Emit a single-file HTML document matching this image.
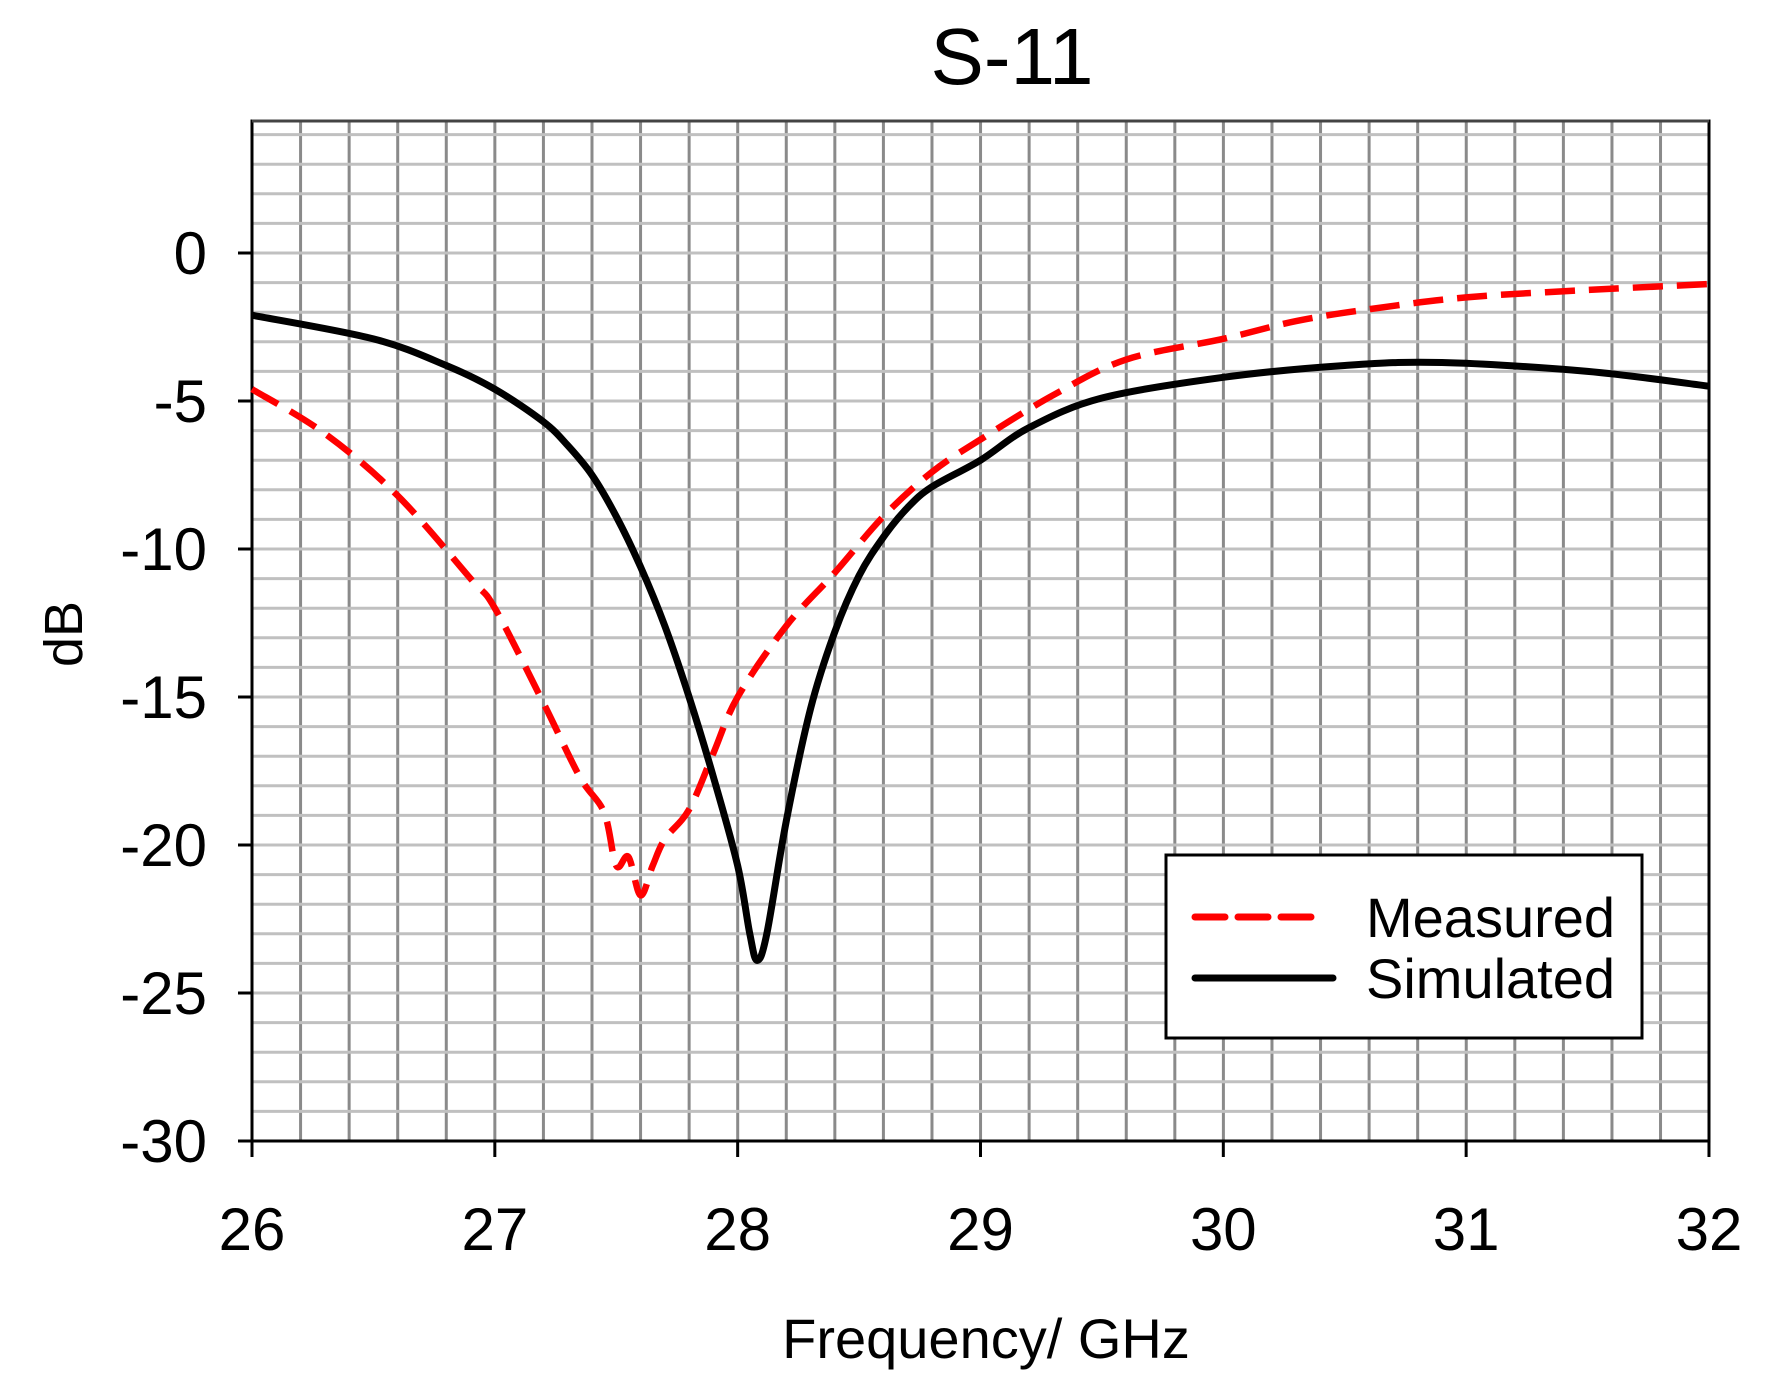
<!DOCTYPE html>
<html><head><meta charset="utf-8"><style>
html,body{margin:0;padding:0;background:#fff;}
svg{display:block;}
text{font-family:"Liberation Sans",Arial,sans-serif;fill:#000;}
</style></head><body>
<svg id="s" width="1767" height="1387" viewBox="0 0 1767 1387" xmlns="http://www.w3.org/2000/svg">
<rect width="1767" height="1387" fill="#fff"/>
<g id="grid"></g>
<g id="curves"></g>
<rect x="1166" y="855" width="476" height="183" fill="#fff" stroke="#000" stroke-width="3"/>
<line x1="1195" y1="917" x2="1316" y2="917" stroke="#f00" stroke-width="7" stroke-dasharray="30 13" stroke-linecap="round"/>
<line x1="1195" y1="978" x2="1333" y2="978" stroke="#000" stroke-width="7" stroke-linecap="round"/>
<text x="1366" y="937" font-size="56">Measured</text>
<text x="1366" y="998" font-size="56">Simulated</text>
<text x="1012" y="84" font-size="80" text-anchor="middle">S-11</text>
<text transform="translate(82,634) rotate(-90)" font-size="54" text-anchor="middle">dB</text>
<text x="986" y="1358" font-size="56" text-anchor="middle">Frequency/ GHz</text>
<g id="ticks"></g>
</svg>
<script>
var X=function(f){return 252+(f-26)*242.83;},Y=function(d){return 253-d*29.6;};
var g='';
for(var i=1;i<30;i++){var x=252+i*48.57;g+='<line x1="'+x+'" y1="121" x2="'+x+'" y2="1141" stroke="#8a8a8a" stroke-width="3"/>';}
for(var d=4;d>=-29;d--){var y=Y(d);g+='<line x1="252" y1="'+y+'" x2="1709" y2="'+y+'" stroke="#c0c0c0" stroke-width="3"/>';}
g+='<rect x="252" y="121" width="1457" height="1020" fill="none" stroke="#000" stroke-width="3"/>';
g+='<line x1="252" y1="121" x2="1709" y2="121" stroke="#444" stroke-width="3"/>';
document.getElementById('grid').innerHTML=g;
var t='';
for(var d=0;d>=-30;d-=5){var y=Y(d);t+='<line x1="238" y1="'+y+'" x2="252" y2="'+y+'" stroke="#000" stroke-width="3"/>';
t+='<text x="207" y="'+(y+21)+'" font-size="60" text-anchor="end">'+(d==0?'0':d)+'</text>';}
for(var f=26;f<=32;f++){var x=X(f);t+='<line x1="'+x+'" y1="1141" x2="'+x+'" y2="1157" stroke="#000" stroke-width="3"/>';
t+='<text x="'+x+'" y="1250" font-size="60" text-anchor="middle">'+f+'</text>';}
document.getElementById('ticks').innerHTML=t;
var sim=[[26,-2.1],[26.5,-2.9],[26.8,-3.8],[27,-4.6],[27.2,-5.7],[27.3,-6.5],[27.4,-7.5],[27.5,-8.9],[27.6,-10.6],[27.7,-12.6],[27.8,-15],[27.9,-17.7],[28.0,-20.7],[28.05,-23],[28.08,-23.9],[28.12,-23],[28.2,-19.2],[28.3,-15.4],[28.4,-12.8],[28.5,-10.9],[28.6,-9.6],[28.7,-8.6],[28.8,-7.9],[29,-7.0],[29.2,-5.9],[29.5,-4.9],[30,-4.2],[30.5,-3.8],[30.9,-3.7],[31.5,-4.0],[32,-4.5]];
var mea=[[26,-4.6],[26.3,-6.1],[26.6,-8.2],[26.9,-11],[27.0,-12],[27.2,-15.2],[27.35,-17.7],[27.45,-18.9],[27.5,-20.7],[27.55,-20.4],[27.6,-21.7],[27.65,-20.7],[27.7,-19.8],[27.8,-18.8],[27.9,-16.9],[28.0,-15],[28.2,-12.6],[28.4,-10.8],[28.6,-8.9],[28.8,-7.4],[29.0,-6.3],[29.3,-4.8],[29.6,-3.6],[30,-2.9],[30.3,-2.3],[30.6,-1.9],[31,-1.5],[31.5,-1.25],[32,-1.05]];
function path(a){var p=a.map(function(q){return [X(q[0]),Y(q[1])];});
var s='M'+p[0][0]+' '+p[0][1];
for(var i=0;i<p.length-1;i++){var p0=p[Math.max(0,i-1)],p1=p[i],p2=p[i+1],p3=p[Math.min(p.length-1,i+2)];
var c1=[p1[0]+(p2[0]-p0[0])/6,p1[1]+(p2[1]-p0[1])/6],c2=[p2[0]-(p3[0]-p1[0])/6,p2[1]-(p3[1]-p1[1])/6];
s+=' C'+c1[0]+' '+c1[1]+' '+c2[0]+' '+c2[1]+' '+p2[0]+' '+p2[1];}return s;}
document.getElementById('curves').innerHTML=
'<path d="'+path(mea)+'" fill="none" stroke="#f00" stroke-width="6.5" stroke-dasharray="30 14" stroke-linejoin="round"/>'+
'<path d="'+path(sim)+'" fill="none" stroke="#000" stroke-width="7" stroke-linejoin="round"/>';
</script>
</body></html>
